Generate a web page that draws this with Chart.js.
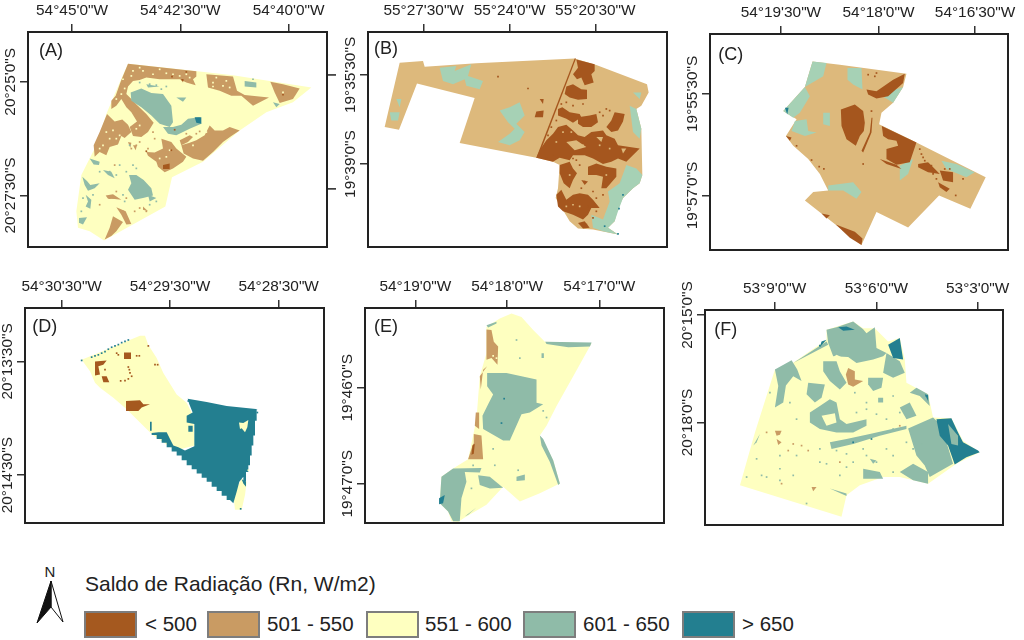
<!DOCTYPE html>
<html>
<head>
<meta charset="utf-8">
<title>Saldo de Radiação</title>
<script src="https://cdn.jsdelivr.net/npm/chart.js@4"></script>
<style>
  body { margin: 0; background: #fff; width: 1024px; height: 640px; overflow: hidden; position: relative; font-family: "Liberation Sans", Arial, sans-serif; color: #222; }
  canvas { position: absolute; }
  .legend-title { position: absolute; left: 85px; top: 572px; font-size: 21px; white-space: nowrap; }
  .swatch { position: absolute; top: 611px; width: 49px; height: 23px; border: 2px solid #7d7d7d; }
  .swatch-label { position: absolute; top: 612px; font-size: 20.5px; white-space: nowrap; }
  #north { position: absolute; left: 30px; top: 560px; }
</style>
</head>
<body>
<canvas id="panelA"></canvas>
<canvas id="panelB"></canvas>
<canvas id="panelC"></canvas>
<canvas id="panelD"></canvas>
<canvas id="panelE"></canvas>
<canvas id="panelF"></canvas>

<svg id="north" width="40" height="70" viewBox="0 0 40 70">
  <text x="20" y="17" font-size="15" text-anchor="middle" fill="#222" font-family="Liberation Sans">N</text>
  <path d="M21 21 L33 62 L21 47 Z" fill="#fff" stroke="#111" stroke-width="1"/>
  <path d="M21 21 L7 63 L21 47 Z" fill="#111" stroke="#111" stroke-width="1"/>
</svg>

<div class="legend-title">Saldo de Radiação (Rn, W/m2)</div>
<div id="legend"></div>

<script>
// legend classes
const classNames = ['< 500', '501 - 550', '551 - 600', '601 - 650', '> 650'];
const classColors = ['#a5591f', '#c99b63', '#feffc0', '#8fbba8', '#237f90'];

// all outlines are in raster cells of each map, flat lists x,y,x,y...

// (A)
const aXTicks = [217, 542, 867];
const aXLabels = ['54°45\'0"W', '54°42\'30"W', '54°40\'0"W'];
const aYTicks = [248, 592];
const aYLabels = ['20°25\'0"S', '20°27\'30"S'];
const aSideTicks = [227, 572];
const aYellow = [[385,193, 560,212, 700,228, 810,245, 935,265, 880,310, 800,340, 720,395, 610,490, 517,537, 497,625, 313,728, 270,700, 235,690, 230,640, 245,530, 290,440, 320,345, 360,250]];
const aTan = [
  [385,193, 590,216, 590,232, 580,240, 588,258, 560,250, 540,240, 520,240, 480,240, 440,235, 420,242, 400,245, 385,262, 380,285, 395,300, 412,318, 440,345, 462,372, 445,400, 425,415, 400,412, 390,385, 412,368, 395,340, 380,325, 365,300, 350,320, 335,330, 335,305, 348,290, 362,250],
  [620,225, 700,232, 712,275, 735,288, 808,295, 760,320, 725,290, 695,290, 660,275, 625,265],
  [812,248, 850,255, 900,268, 880,300, 840,312, 825,280],
  [322,345, 345,368, 368,362, 385,378, 395,400, 375,418, 365,412, 355,438, 330,445, 320,470, 300,460, 285,475, 282,440, 300,400],
  [630,380, 645,395, 670,395, 690,385, 720,395, 695,412, 670,430, 640,460, 610,487, 580,480, 552,465, 545,440, 570,432, 590,425, 615,410],
  [540,425, 570,410, 580,415, 565,430, 545,440],
  [485,420, 515,430, 530,450, 560,475, 550,490, 520,510, 495,522, 475,505, 470,490, 445,472, 440,460, 465,462, 490,450],
  [340,655, 370,672, 350,700, 335,715, 315,725, 330,690],
  [350,628, 378,640, 395,678, 380,680, 365,650],
  [318,592, 340,588, 365,605, 345,603, 325,602],
  [430,625, 445,640, 430,635],
  [400,440, 412,440, 408,455],
  [385,430, 395,432, 392,448]
];
const aGreen = [
  [393,280, 425,268, 455,282, 490,285, 515,320, 520,370, 510,385, 480,375, 455,350, 425,325, 395,305],
  [490,385, 520,385, 545,378, 565,360, 600,355, 605,375, 570,390, 530,410, 505,405],
  [388,530, 410,530, 432,545, 455,570, 460,592, 430,600, 405,605, 385,575, 395,555],
  [248,535, 262,548, 272,560, 300,555, 285,570, 265,578, 255,560],
  [258,590, 275,605, 272,632, 258,625, 265,610],
  [238,660, 262,658, 250,680, 240,675],
  [270,480, 300,490, 298,500, 282,498],
  [310,515, 335,520, 345,540, 325,530],
  [530,295, 560,295, 550,308],
  [735,245, 770,250, 770,265, 735,262],
  [820,310, 840,315, 830,325],
  [445,590, 470,600, 450,610],
  [440,255, 480,262, 445,265]
];
const aTeal = [[585,355, 605,355, 605,375, 590,372]];
const aBrown = [[490,500, 510,495, 510,512, 490,512], [545,240, 552,240, 550,250]];
const aYellowDots = [400,215, 420,205, 460,225, 500,222, 540,230, 570,235, 640,250, 680,245, 690,265, 350,300, 365,285, 320,400, 340,395, 360,410, 310,440, 850,280, 620,400, 580,440, 395,230, 430,215, 480,210, 520,225, 560,225, 650,235, 670,260, 640,262, 375,268, 370,240, 410,390, 420,380, 350,420, 330,420, 300,450, 500,475, 480,480, 510,455];
const aTanDots = [420,430, 445,450, 410,440, 395,450, 330,600, 420,630, 440,640, 380,600, 465,420, 460,400, 350,580, 345,500, 370,640, 300,620, 405,640, 560,405, 600,398, 590,405];
const aGreenDots = [450,255, 470,258, 500,262, 420,250, 390,440, 400,500, 410,510, 470,610, 450,620, 360,500, 300,520, 330,520, 350,530, 250,600, 245,640, 280,590, 290,560, 380,520, 370,590, 375,610, 485,270, 545,300, 520,400, 750,255, 760,240];
const aBrownDots = [517,232, 548,242, 560,218, 850,287, 440,458, 515,455, 525,393];

// (B)
const bXTicks = [252, 510, 767];
const bXLabels = ['55°27\'30"W', '55°24\'0"W', '55°20\'30"W'];
const bYTicks = [227, 497];
const bYLabels = ['19°35\'30"S', '19°39\'0"S'];
const bTan = [[180,190, 250,185, 255,202, 410,192, 705,177, 770,197, 922,255, 927,280, 905,320, 890,330, 905,390, 908,530, 900,555, 880,570, 850,600, 835,630, 825,670, 805,690, 835,710, 760,695, 715,692, 690,670, 648,600, 655,570, 660,500, 640,490, 590,478, 360,433, 405,297, 232,253, 178,393, 135,385]];
const bGreen = [
  [300,205, 350,200, 345,215, 395,195, 385,230, 430,245, 420,270, 380,260, 375,240, 340,255, 310,245],
  [480,335, 510,325, 540,310, 555,350, 530,375, 555,400, 540,425, 510,440, 475,430, 510,405, 525,390, 505,370],
  [870,320, 890,330, 905,390, 900,420, 880,400, 875,360],
  [860,500, 890,510, 908,530, 900,555, 880,570, 850,600, 835,640, 825,670, 805,690, 835,710, 790,700, 760,690, 755,650, 790,665, 810,610, 805,580, 840,555],
  [150,340, 180,340, 175,365, 155,365],
  [170,300, 185,300, 180,325],
  [880,280, 905,280, 900,300]
];
const bBrown = [
  [705,177, 709,177, 595,478, 590,478],
  [710,180, 765,195, 765,215, 755,225, 762,250, 735,258, 725,235, 712,240, 700,225, 715,205],
  [680,262, 700,255, 725,270, 742,272, 742,300, 715,302, 690,295, 675,285],
  [655,330, 668,325, 690,340, 720,345, 725,355, 700,372, 680,360, 655,350],
  [590,478, 600,455, 620,425, 640,405, 655,385, 680,378, 700,395, 715,410, 735,415, 755,400, 790,395, 800,410, 825,420, 835,440, 870,445, 900,450, 885,465, 860,490, 835,480, 815,490, 790,497, 760,480, 735,470, 700,470, 690,485, 660,478, 640,490],
  [715,355, 750,350, 770,345, 775,370, 755,385, 730,385, 715,375],
  [825,340, 855,345, 850,368, 835,395, 815,400, 800,385, 815,365],
  [660,500, 690,490, 700,510, 712,525, 700,545, 690,570, 672,555, 660,525],
  [745,505, 770,495, 800,505, 830,510, 830,535, 800,570, 785,570, 790,535, 770,530, 745,530],
  [725,545, 745,550, 735,560],
  [650,590, 665,575, 680,605, 700,590, 720,585, 745,590, 760,605, 780,630, 755,630, 745,650, 730,665, 700,650, 670,640, 655,625],
  [715,675, 735,670, 750,690, 730,692],
  [600,300, 612,300, 610,315],
  [590,338, 612,335, 610,355, 585,355]
];
const bTanPatch = [[680,430, 710,425, 740,445, 705,455], [770,415, 790,415, 785,430], [845,450, 860,450, 850,465]];
const bBrownDots = [565,268, 475,232, 720,500, 735,550, 755,360, 790,350, 800,330, 640,470, 620,480, 700,480, 710,485, 770,600, 790,590, 760,660, 740,680, 665,315, 680,310, 700,320, 730,315, 780,340, 810,335, 650,365, 635,385, 625,410, 770,640, 760,580, 725,570, 745,625];
const bTanDots = [670,400, 695,400, 730,440, 780,440, 810,450, 650,430, 700,620, 680,625, 720,625, 690,530, 800,530];
const bTealDots = [838,632, 795,685, 835,708, 850,590];

// (C)
const cXTicks = [303, 596, 886];
const cXLabels = ['54°19\'30"W', '54°18\'0"W', '54°16\'30"W'];
const cYTicks = [283, 590];
const cYLabels = ['19°55\'30"S', '19°57\'0"S'];
const cTan = [[398,185, 480,195, 680,222, 670,262, 640,310, 605,340, 598,375, 710,430, 918,535, 872,630, 778,590, 685,687, 590,640, 545,740, 375,605, 400,580, 445,575, 420,525, 385,480, 340,440, 318,410, 350,360, 310,335, 375,262]];
const cGreen = [
  [398,185, 440,190, 430,230, 375,262],
  [375,262, 390,290, 360,340, 340,355, 310,335],
  [345,365, 380,360, 385,395, 410,400, 375,410, 335,395],
  [503,205, 545,205, 548,270, 520,255, 503,240],
  [445,560, 520,550, 545,580, 530,600, 490,575, 445,575],
  [670,262, 640,310, 600,285],
  [785,485, 830,495, 885,520, 860,535, 800,510],
  [660,500, 700,480, 685,525, 660,545],
  [430,340, 450,340, 450,380, 430,375]
];
const cTeal = [[315,325, 326,325, 322,345]];
const cBrown = [
  [483,330, 525,315, 550,335, 555,370, 552,395, 540,410, 528,440, 500,420, 485,380],
  [606,380, 710,430, 690,490, 650,497, 620,480, 620,450, 655,440, 650,425, 625,420, 610,410],
  [600,480, 650,497, 665,510, 620,495],
  [560,270, 590,275, 640,240, 675,222, 670,250, 625,290, 590,297, 565,285],
  [575,355, 578,355, 575,400, 550,460, 545,455, 570,400],
  [715,495, 745,490, 770,515, 780,525, 745,520, 715,505],
  [780,515, 820,520, 820,550, 790,545],
  [775,550, 810,570, 800,580, 780,565],
  [425,645, 450,650, 440,660],
  [468,678, 525,700, 548,720, 545,740, 510,718],
  [318,410, 335,415, 330,425]
];
const cBrownDots = [590,220, 585,230, 565,225, 720,450, 725,465, 730,475, 350,440, 395,483, 432,510, 418,503, 575,335, 828,590, 850,540, 550,495, 735,485, 755,500, 760,525, 795,510, 810,510, 770,540];

// (D)
const dXTicks = [185, 510, 836];
const dXLabels = ['54°30\'30"W', '54°29\'30"W', '54°28\'30"W'];
const dYTicks = [275, 620];
const dYLabels = ['20°13\'30"S', '20°14\'30"S'];
const dYellow = [
  [245,270, 420,197, 435,197, 445,225, 470,265, 490,310, 530,375, 560,400, 580,440, 585,530, 525,545, 455,495, 420,460, 380,420, 340,385, 300,355, 285,340, 270,305],
  [725,630, 740,640, 735,680, 725,725, 705,725, 700,680]
];
const dTeal = [
  [563,388, 620,398, 680,410, 775,420, 770,420, 770,455, 765,455, 765,500, 760,500, 760,530, 755,530, 755,560, 750,560, 750,590, 745,590, 745,610, 738,610, 738,640, 730,640, 730,625, 718,640, 710,670, 700,705, 690,695, 680,695, 680,682, 665,682, 665,668, 650,668, 650,655, 635,655, 635,640, 620,640, 620,628, 605,628, 605,615, 590,615, 590,602, 575,602, 575,590, 560,590, 560,575, 545,575, 545,560, 530,560, 530,548, 515,548, 515,535, 500,535, 500,522, 485,522, 485,510, 470,510, 470,498, 455,498, 455,492, 475,490, 500,490, 510,510, 520,530, 535,535, 555,545, 583,532, 583,465, 560,460, 560,440, 578,430, 568,405],
  [565,470, 578,470, 578,488, 565,488],
  [450,458, 455,458, 455,485, 450,485],
  [725,632, 738,640, 738,655, 730,645]
];
const dYellowPatch = [[717,460, 730,462, 745,453, 742,475, 735,490, 725,478, 720,480]];
const dBrown = [
  [378,395, 420,393, 430,405, 450,405, 425,415, 415,425, 380,425],
  [285,275, 320,272, 310,285, 295,290, 300,315, 285,318],
  [305,320, 320,320, 328,338, 310,338],
  [372,248, 393,248, 393,268, 372,268]
];
const dTealDots = [245,272, 275,262, 285,258, 295,255, 305,250, 315,245, 325,238, 335,232, 345,228, 355,224, 365,218, 375,214, 385,210, 722,722, 565,395, 772,430];
const dBrownDots = [350,250, 355,255, 410,258, 418,258, 465,285, 473,285, 385,292, 388,300, 390,310, 395,320, 385,328, 375,333, 362,334, 445,228, 315,300];
const dYellowDots = [465,485, 745,605];

// (E)
const eXTicks = [227, 502, 778];
const eXLabels = ['54°19\'0"W', '54°18\'0"W', '54°17\'0"W'];
const eYTicks = [355, 646];
const eYLabels = ['19°46\'0"S', '19°47\'0"S'];
const eYellow = [[515,130, 545,140, 580,180, 615,215, 755,220, 700,320, 650,410, 620,470, 600,500, 625,545, 640,575, 660,645, 600,675, 540,700, 490,655, 440,710, 375,748, 355,762, 335,760, 325,730, 300,705, 305,625, 340,600, 385,572, 400,500, 410,450, 420,320, 440,250, 440,170, 480,145]];
const eTan = [
  [440,178, 455,180, 462,215, 475,230, 473,285, 455,265, 440,270],
  [385,572, 400,525, 402,495, 425,500, 430,572],
  [420,320, 442,290, 430,300, 423,360],
  [408,430, 418,430, 418,480, 405,470]
];
const eGreen = [
  [442,310, 500,310, 590,330, 590,400, 610,405, 570,430, 545,435, 510,515, 490,515, 430,480, 428,440, 445,405, 460,375, 442,350],
  [305,625, 340,600, 425,598, 420,612, 375,610, 380,640, 365,690, 360,760, 340,760, 325,730, 300,705],
  [415,620, 450,625, 490,658, 450,660, 420,650],
  [530,625, 555,618, 555,635, 530,638],
  [616,215, 755,218, 750,230, 685,232, 620,222],
  [440,165, 470,155, 470,160, 445,172],
  [605,250, 612,250, 612,265, 605,265],
  [600,500, 610,510, 640,575, 660,645, 655,650, 630,580, 605,530],
  [375,745, 410,718, 385,740]
];
const eTeal = [[298,690, 315,680, 310,705, 298,708]];
const eBrown = [[398,530, 405,525, 402,555, 395,558]];
const eTealDots = [493,388, 485,462];
const eGreenDots = [535,605, 460,540, 465,590, 400,590, 620,445, 590,410, 610,425, 395,660, 530,210, 540,265];
const eYellowDots = [460,258, 470,265];

// (F)
const fXTicks = [284, 590, 894];
const fXLabels = ['53°9\'0"W', '53°6\'0"W', '53°3\'0"W'];
const fYTicks = [135, 460];
const fYLabels = ['20°15\'0"S', '20°18\'0"S'];
const fYellow = [[520,155, 550,175, 585,175, 625,215, 660,205, 675,270, 680,340, 745,375, 760,445, 815,447, 850,515, 900,550, 830,585, 745,645, 660,625, 610,625, 540,650, 500,680, 485,745, 180,650, 225,490, 285,300, 310,300, 440,210, 440,180]];
const fGreen = [
  [440,180, 470,172, 520,155, 550,178, 560,190, 585,172, 590,235, 620,250, 610,260, 580,270, 530,280, 505,262, 460,260, 445,220],
  [285,300, 335,272, 352,300, 365,335, 340,320, 318,348, 310,400, 285,415, 295,350],
  [310,300, 440,215, 445,225, 340,280],
  [430,275, 470,275, 480,305, 500,340, 480,360, 450,335, 430,305],
  [385,340, 435,345, 425,385, 405,400, 380,375],
  [565,325, 610,325, 605,355, 580,365, 565,345],
  [620,250, 660,275, 675,310, 640,325, 610,310],
  [390,430, 420,410, 450,390, 470,400, 480,450, 500,465, 560,450, 560,470, 520,490, 470,490, 420,480, 390,460],
  [450,520, 500,510, 570,495, 680,470, 680,480, 600,500, 520,525, 455,540],
  [685,478, 760,445, 785,470, 820,585, 750,625, 735,590, 710,560],
  [660,610, 700,585, 745,610, 745,645, 700,635],
  [690,370, 710,355, 745,375, 750,410, 720,380],
  [660,415, 690,400, 710,440, 680,450],
  [550,600, 600,610, 610,630, 550,630],
  [220,530, 240,495, 230,520],
  [450,660, 500,675, 500,682],
  [595,385, 610,385, 610,400, 595,400],
  [570,570, 590,575, 580,585]
];
const fTeal = [
  [625,225, 660,205, 670,270, 640,265],
  [770,450, 815,447, 835,490, 850,520, 895,545, 900,550, 860,565, 825,587, 805,530, 780,500],
  [475,172, 500,170, 525,180, 490,183],
  [425,215, 440,210, 420,232],
  [735,375, 745,378, 745,395]
];
const fGreenPatch = [[805,465, 835,500, 835,530, 815,525]];
const fTan = [
  [505,295, 525,305, 525,330, 550,335, 520,352, 505,345, 498,315],
  [285,485, 305,485, 300,497, 290,500],
  [290,510, 305,520, 295,528],
  [395,655, 410,655, 400,668]
];
const fYellowPatch = [[425,440, 465,432, 470,460, 440,470], [450,270, 470,255, 490,265, 480,275]];
const fGreenDots = [200,625, 260,625, 300,635, 350,560, 420,580, 470,545, 500,555, 560,560, 590,580, 620,540, 680,520, 640,480, 620,450, 660,430, 530,430, 270,370, 330,400, 350,450, 300,560, 230,570, 480,620, 570,620, 640,610, 380,705, 420,540, 245,620, 340,620, 300,600, 440,585, 520,580, 550,540, 640,560, 700,540, 725,525, 500,595, 560,420, 590,435, 525,370, 560,400, 640,380];
const fTanDots = [340,525, 325,545, 480,580, 305,645, 660,470, 385,545, 260,490, 365,530];
const fTealDots = [520,520, 575,510, 740,380, 420,228];

const panels = [
  { id: 'panelA', left: 28, top: 32, w: 299, h: 217, xRange: [85, 982], yRange: [97, 748], xTicks: aXTicks, xLabels: aXLabels, yTicks: aYTicks, yLabels: aYLabels, sideTicks: aSideTicks, yPad: -29, name: '(A)', nameAt: [118, 155],
    layers: [[2, aYellow], [1, aTan], [3, aGreen], [4, aTeal], [0, aBrown]], dots: [[2, aYellowDots], [1, aTanDots], [3, aGreenDots], [0, aBrownDots]] },
  { id: 'panelB', left: 368, top: 32, w: 299, h: 217, xRange: [85, 982], yRange: [97, 748], xTicks: bXTicks, xLabels: bXLabels, yTicks: bYTicks, yLabels: bYLabels, yPad: -29, name: '(B)', nameAt: [103, 150], light: true,
    layers: [[1, bTan], [3, bGreen], [0, bBrown], [1, bTanPatch]], dots: [[0, bBrownDots], [1, bTanDots], [4, bTealDots]] },
  { id: 'panelC', left: 710, top: 34, w: 298, h: 218, xRange: [90, 985], yRange: [102, 755], xTicks: cXTicks, xLabels: cXLabels, yTicks: cYTicks, yLabels: cYLabels, yPad: -29, name: '(C)', nameAt: [115, 165], light: true,
    layers: [[1, cTan], [3, cGreen], [4, cTeal], [0, cBrown]], dots: [[0, cBrownDots]] },
  { id: 'panelD', left: 25, top: 308, w: 299, h: 217, xRange: [75, 972], yRange: [113, 765], xTicks: dXTicks, xLabels: dXLabels, yTicks: dYTicks, yLabels: dYLabels, yPad: -29, name: '(D)', nameAt: [97, 172],
    layers: [[2, dYellow], [4, dTeal], [2, dYellowPatch], [0, dBrown]], dots: [[4, dTealDots], [0, dBrownDots], [2, dYellowDots]] },
  { id: 'panelE', left: 365, top: 308, w: 299, h: 217, xRange: [76, 972], yRange: [113, 765], xTicks: eXTicks, xLabels: eXLabels, yTicks: eYTicks, yLabels: eYLabels, yPad: -24.5, name: '(E)', nameAt: [103, 172],
    layers: [[2, eYellow], [1, eTan], [3, eGreen], [4, eTeal], [0, eBrown]], dots: [[4, eTealDots], [3, eGreenDots], [2, eYellowDots]] },
  { id: 'panelF', left: 705, top: 310, w: 298, h: 217, xRange: [75, 970], yRange: [120, 770], xTicks: fXTicks, xLabels: fXLabels, yTicks: fYTicks, yLabels: fYLabels, yPad: -24.5, name: '(F)', nameAt: [103, 180],
    layers: [[2, fYellow], [3, fGreen], [4, fTeal], [3, fGreenPatch], [1, fTan], [2, fYellowPatch]], dots: [[3, fGreenDots], [1, fTanDots], [4, fTealDots]] }
];

const lightColors = { 1: '#ddb97c', 3: '#a6d1b5', 0: '#a5561e' };

function toPoints(flat) {
  const pts = [];
  for (let i = 0; i < flat.length; i += 2) pts.push({ x: flat[i], y: flat[i + 1] });
  return pts;
}

// map frame, side ticks and the (A) style tag
const framePlugin = {
  id: 'frame',
  afterDatasetsDraw(chart, args, opts) {
    const { ctx, chartArea: a, scales } = chart;
    ctx.save();
    ctx.strokeStyle = '#222';
    ctx.lineWidth = 2;
    ctx.strokeRect(a.left, a.top, a.right - a.left, a.bottom - a.top);
    ctx.lineWidth = 1.5;
    (opts.sideTicks || []).forEach(v => {
      const y = scales.y.getPixelForValue(v);
      ctx.beginPath();
      ctx.moveTo(a.right, y);
      ctx.lineTo(a.right + 9, y);
      ctx.stroke();
    });
    ctx.fillStyle = '#222';
    ctx.font = '18px "Liberation Sans"';
    ctx.textBaseline = 'middle';
    ctx.fillText(opts.name, scales.x.getPixelForValue(opts.nameAt[0]), scales.y.getPixelForValue(opts.nameAt[1]));
    ctx.restore();
  }
};

panels.forEach(p => {
  const colorOf = c => (p.light && lightColors[c]) || classColors[c];
  const datasets = [];
  p.layers.forEach(([c, polys]) => {
    polys.forEach(flat => {
      const pts = toPoints(flat);
      pts.push(pts[0]);
      datasets.push({ data: pts, showLine: true, fill: 'shape', borderWidth: 0, pointRadius: 0, tension: 0, backgroundColor: colorOf(c), borderColor: colorOf(c) });
    });
  });
  p.dots.forEach(([c, flat]) => {
    datasets.push({ data: toPoints(flat), showLine: false, pointStyle: 'rect', pointRadius: 1.2, pointBorderWidth: 0, pointBackgroundColor: colorOf(c), backgroundColor: colorOf(c), borderColor: colorOf(c) });
  });
  datasets.forEach((d, i) => { d.order = -i; });

  const canvas = document.getElementById(p.id);
  canvas.width = 30 + p.w + 15;
  canvas.height = 32 + p.h + 2;
  canvas.style.left = (p.left - 30) + 'px';
  canvas.style.top = (p.top - 32) + 'px';

  new Chart(canvas, {
    type: 'scatter',
    data: { datasets },
    plugins: [framePlugin],
    options: {
      responsive: false,
      animation: false,
      layout: { padding: { right: 15, bottom: 2, left: 0, top: 0 } },
      plugins: {
        legend: { display: false },
        tooltip: { enabled: false },
        frame: { sideTicks: p.sideTicks, name: p.name, nameAt: p.nameAt }
      },
      scales: {
        x: {
          type: 'linear',
          position: 'top',
          min: p.xRange[0],
          max: p.xRange[1],
          afterBuildTicks: s => { s.ticks = p.xTicks.map(v => ({ value: v })); },
          afterFit: s => { s.height = 32; s.paddingLeft = 0; s.paddingRight = 0; s.paddingTop = 0; s.paddingBottom = 0; },
          border: { display: false },
          grid: { drawOnChartArea: false, tickLength: 8, color: '#333', lineWidth: 1.5 },
          ticks: {
            autoSkip: false, maxRotation: 0, minRotation: 0, padding: 4, color: '#222',
            font: { family: 'Liberation Sans', size: 15.4 },
            callback: (v, i) => p.xLabels[i]
          }
        },
        y: {
          type: 'linear',
          position: 'left',
          reverse: true,
          min: p.yRange[0],
          max: p.yRange[1],
          afterBuildTicks: s => { s.ticks = p.yTicks.map(v => ({ value: v })); },
          afterFit: s => { s.width = 30; s.paddingLeft = 0; s.paddingRight = 0; s.paddingTop = 0; s.paddingBottom = 0; },
          border: { display: false },
          grid: { drawOnChartArea: false, tickLength: 8, color: '#333', lineWidth: 1.5 },
          ticks: {
            autoSkip: false, minRotation: 90, maxRotation: 90, crossAlign: 'center', padding: p.yPad, color: '#222',
            font: { family: 'Liberation Sans', size: 15.4 },
            callback: (v, i) => p.yLabels[i]
          }
        }
      }
    }
  });
});

// colour key under the maps
const swatchLeft = [84, 207, 366, 523, 682];
const labelLeft = [145, 267, 425, 583, 742];
const legend = document.getElementById('legend');
classNames.forEach((name, i) => {
  const box = document.createElement('div');
  box.className = 'swatch';
  box.style.left = swatchLeft[i] + 'px';
  box.style.background = classColors[i];
  legend.appendChild(box);
  const label = document.createElement('div');
  label.className = 'swatch-label';
  label.style.left = labelLeft[i] + 'px';
  label.textContent = name;
  legend.appendChild(label);
});
</script>
</body>
</html>
